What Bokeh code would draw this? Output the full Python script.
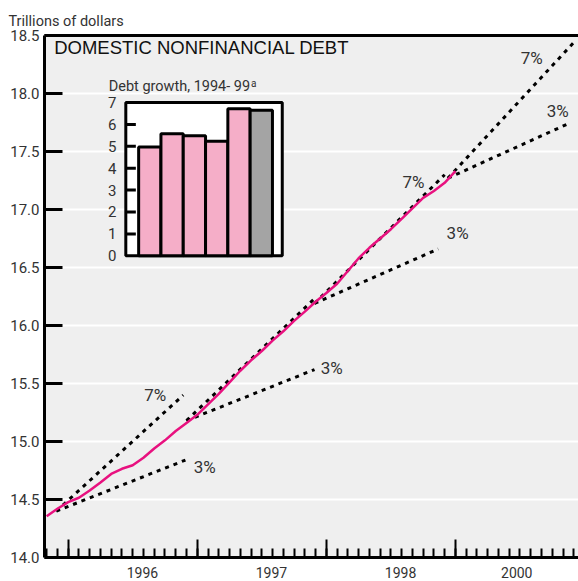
from bokeh.plotting import figure
from bokeh.models import Range1d, LinearAxis, FixedTicker
from bokeh.core.properties import value
from bokeh.embed import file_html
from bokeh.resources import INLINE

# ---------------- data ----------------
# months counted from the first long tick on the time axis
months = list(range(-2, 37))
debt = [14.355, 14.42, 14.477, 14.515, 14.577, 14.646, 14.72, 14.765, 14.795,
        14.86, 14.94, 15.01, 15.09, 15.16, 15.23, 15.32, 15.41, 15.51, 15.61,
        15.70, 15.78, 15.87, 15.95, 16.04, 16.12, 16.205, 16.28, 16.36, 16.47,
        16.58, 16.67, 16.75, 16.83, 16.92, 17.01, 17.10, 17.16, 17.23, 17.33]

trend_start_month = [-1.1, 11.0, 22.9, 35.3]
trend_start_value = [14.40, 15.18, 16.19, 17.27]
trend7_end_month = [10.7, 23.0, 35.0, 47.2]
trend7_end_value = [15.40, 16.24, 17.30, 18.46]
trend3_end_month = [10.9, 22.9, 34.4, 46.5]
trend3_end_value = [14.84, 15.62, 16.66, 17.74]

pct_text = ["7%", "3%", "3%", "7%", "3%", "7%", "3%"]
pct_x = [8.1, 12.7, 24.5, 32.1, 36.2, 43.1, 45.5]
pct_y = [15.40, 14.78, 15.63, 17.24, 16.80, 18.31, 17.85]

y_ticks = [14.0, 14.5, 15.0, 15.5, 16.0, 16.5, 17.0, 17.5, 18.0, 18.5]
y_tick_labels = ["14.0", "14.5", "15.0", "15.5", "16.0", "16.5", "17.0", "17.5", "18.0", "18.5"]
year_ticks = [0, 12, 24, 36]
month_ticks = list(range(-2, 48))
year_label_pos = [6.9, 18.9, 30.9, 41.7]
year_labels = ["1996", "1997", "1998", "2000"]

# inset: debt growth, 1994-99
inset_bar_x = [0, 1, 2, 3, 4, 5]
inset_bar_vals = [4.97, 5.57, 5.48, 5.23, 6.71, 6.65]
inset_bar_colors = ["#f5aec8", "#f5aec8", "#f5aec8", "#f5aec8", "#f5aec8", "#a4a4a4"]
inset_ticks = [1, 2, 3, 4, 5, 6]
inset_tick_labels = ["0", "1", "2", "3", "4", "5", "6", "7"]
inset_label_vals = [0, 1, 2, 3, 4, 5, 6, 7]

# ---------------- style ----------------
NARROW = "Roboto, 'Liberation Sans Narrow', sans-serif"
WIDE = "'Liberation Sans', Arial, sans-serif"
TXT = "#333333"

p = figure(width=578, height=581,
           x_range=Range1d(-2.2, 47.44), y_range=Range1d(14.0, 18.5),
           output_backend="svg", toolbar_location=None,
           min_border_left=44, min_border_right=0, min_border_top=35,
           min_border_bottom=24)
p.background_fill_color = "#efefef"
p.border_fill_color = "white"
p.outline_line_color = None

# title (units)
p.title.text = "Trillions of dollars"
p.title.text_font = NARROW
p.title.text_font_size = "14.5px"
p.title.text_font_style = "normal"
p.title.text_color = TXT
p.title.align = "left"
p.title.offset = -36
p.title.standoff = 12

# y axis
p.yaxis.ticker = FixedTicker(ticks=y_ticks)
p.yaxis.major_label_overrides = dict(zip(y_ticks, y_tick_labels))
p.yaxis.axis_line_width = 3
p.yaxis.axis_line_color = "black"
p.yaxis.major_tick_line_width = 3
p.yaxis.major_tick_in = 18
p.yaxis.major_tick_out = 0
p.yaxis.minor_tick_line_color = None
p.yaxis.major_label_standoff = 5
p.yaxis.major_label_text_font = NARROW
p.yaxis.major_label_text_font_size = "15px"
p.yaxis.major_label_text_color = TXT

p.ygrid.ticker = FixedTicker(ticks=y_ticks)
p.ygrid.grid_line_color = "white"
p.ygrid.grid_line_width = 2
p.xgrid.visible = False

# x axis with ticks
xa = p.xaxis[0]
xa.ticker = FixedTicker(ticks=year_ticks, minor_ticks=month_ticks)
xa.axis_line_width = 3
xa.axis_line_color = "black"
xa.major_tick_in = 18
xa.major_tick_out = 0
xa.major_tick_line_width = 2
xa.minor_tick_in = 9
xa.minor_tick_out = 0
xa.minor_tick_line_width = 2
xa.minor_tick_line_color = "black"
xa.major_label_overrides = {t: "" for t in year_ticks}
xa.major_label_text_font_size = "1px"
xa.major_label_standoff = 0

# x axis with year labels
xl = LinearAxis(ticker=FixedTicker(ticks=year_label_pos, minor_ticks=[]),
                major_label_overrides=dict(zip(year_label_pos, year_labels)))
xl.axis_line_color = None
xl.major_tick_line_color = None
xl.minor_tick_line_color = None
xl.major_tick_in = 0
xl.major_tick_out = 0
xl.major_label_standoff = 9
xl.major_label_text_font = NARROW
xl.major_label_text_font_size = "14px"
xl.major_label_text_color = TXT
p.add_layout(xl, "below")

# top border
top = LinearAxis(ticker=FixedTicker(ticks=[], minor_ticks=[]))
top.axis_line_width = 3
top.axis_line_color = "black"
top.major_tick_line_color = None
top.minor_tick_line_color = None
top.major_label_standoff = 0
top.major_label_text_font_size = "1px"
p.add_layout(top, "above")

# trend lines
p.segment(x0=trend_start_month, y0=trend_start_value, x1=trend7_end_month, y1=trend7_end_value,
          line_color="black", line_width=3, line_dash="4 5")
p.segment(x0=trend_start_month, y0=trend_start_value, x1=trend3_end_month, y1=trend3_end_value,
          line_color="black", line_width=3, line_dash="4 5")

# debt line
p.line(months, debt, line_color="#e8117f", line_width=2.5)

# percentage labels
p.text(x=pct_x, y=pct_y, text=pct_text, text_font=value(NARROW), text_font_size="17px",
       text_color=TXT, text_align="center", text_baseline="middle")

# chart title
p.text(x=[-1.3], y=[18.40], text=["DOMESTIC NONFINANCIAL DEBT"], text_font=value(WIDE),
       text_font_size="18.5px", text_color="#111111", text_align="left", text_baseline="middle")

# ---------------- inset ----------------
p.extra_x_ranges = {"ix": Range1d(-4.722, 19.224)}
p.extra_y_ranges = {"iy": Range1d(-13.776, 10.059)}
box_left, box_right = -1.076, 5.94
p.quad(left=[box_left], right=[box_right], bottom=[0], top=[7],
       fill_color="white", line_color="black", line_width=3,
       x_range_name="ix", y_range_name="iy")
p.vbar(x=inset_bar_x, top=inset_bar_vals, bottom=0, width=1.0,
       fill_color=inset_bar_colors, line_color="black", line_width=3,
       x_range_name="ix", y_range_name="iy")
tick_len = 0.45
p.segment(x0=[box_left] * len(inset_ticks), y0=inset_ticks,
          x1=[box_left + tick_len] * len(inset_ticks), y1=inset_ticks,
          line_color="black", line_width=3, x_range_name="ix", y_range_name="iy")
p.text(x=[box_left - 0.42] * len(inset_label_vals), y=inset_label_vals, text=inset_tick_labels,
       text_font=value(NARROW), text_font_size="15px", text_color=TXT,
       text_align="right", text_baseline="middle", x_range_name="ix", y_range_name="iy")
p.text(x=[4.50], y=[7.71], text=["Debt growth, 1994- 99"], text_font=value(NARROW),
       text_font_size="14.5px", text_color=TXT, text_align="right", text_baseline="middle",
       x_range_name="ix", y_range_name="iy")
p.text(x=[4.54], y=[8.13], text=["a"], text_font=value(NARROW),
       text_font_size="10px", text_color=TXT, text_align="left", text_baseline="top",
       x_range_name="ix", y_range_name="iy")

open("out.html", "w").write(file_html(p, INLINE))
